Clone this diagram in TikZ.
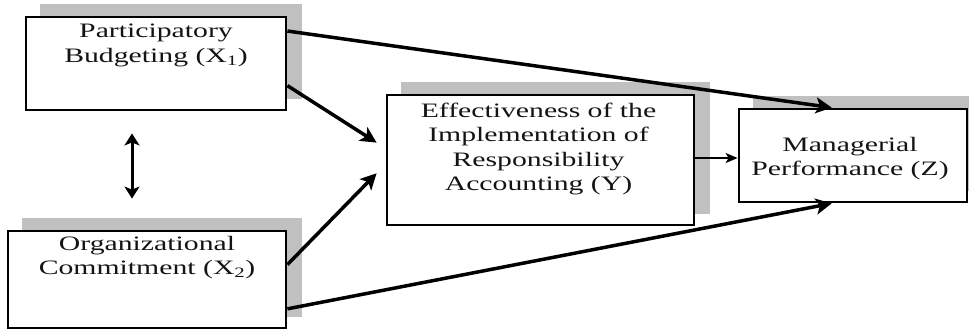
\documentclass[tikz,border=0pt]{standalone}
\usepackage{fontspec}
\setmainfont{Liberation Serif}[FakeStretch=1.45]
\usetikzlibrary{arrows.meta,calc,backgrounds}
\definecolor{shadowgray}{RGB}{192,192,192}
\definecolor{inktext}{RGB}{20,20,20}
\tikzset{
  box/.style={draw=black, line width=2.8pt, fill=white, inner sep=0pt},
  lbl/.style={align=center, inner sep=0pt, text=inktext, font=\fontsize{20.5}{24.5}\selectfont},
  mainarrow/.style={line width=3.5pt, -{Stealth[length=16pt,width=16pt,inset=4pt]}},
  linkarrow/.style={line width=1.6pt, -{Stealth[length=12pt,width=10pt,inset=3pt]}},
  corrarrow/.style={line width=3pt, {Stealth[length=12pt,width=15pt,inset=3pt]}-{Stealth[length=12pt,width=15pt,inset=3pt]}},
}
\newcommand{\dropshade}[1]{%
  \fill[shadowgray] ([xshift=15pt,yshift=12pt]#1.south west) rectangle ([xshift=15pt,yshift=12pt]#1.north east);}
\begin{document}
\begin{tikzpicture}[x=1pt,y=-1pt]
  \clip (0,0) rectangle (969,333);

  % construct boxes
  \node[box, minimum width=260pt, minimum height=93pt] (x1) at (156,63.5) {};
  \node[box, minimum width=278pt, minimum height=97pt] (x2) at (147,279.5) {};
  \node[box, minimum width=307pt, minimum height=130pt] (y) at (540.5,160) {};
  \node[box, minimum width=228pt, minimum height=93pt] (z) at (853,155.5) {};

  % offset grey shadows behind the boxes
  \begin{pgfonlayer}{background}
    \dropshade{x1}
    \dropshade{x2}
    \dropshade{y}
    \dropshade{z}
  \end{pgfonlayer}

  % labels
  \node[lbl, anchor=north] (x1t) at ([yshift=-8.5pt]x1.north) {Participatory\\Budgeting (X\textsubscript{1})};
  \node[lbl, anchor=north] (x2t) at ([yshift=-6pt]x2.north) {Organizational\\Commitment (X\textsubscript{2})};
  \node[lbl, anchor=north] (yt) at ([xshift=-2pt,yshift=-9pt]y.north) {Effectiveness of the\\Implementation of\\Responsibility\\Accounting (Y)};
  \node[lbl, anchor=north] (zt) at ([xshift=-3pt,yshift=-29pt]z.north) {Managerial\\Performance (Z)};

  % paths
  \draw[mainarrow] ($(x1.north east)!0.161!(x1.south east)$) -- ($(z.north west)!0.408!(z.north east)$);
  \draw[mainarrow] ($(x1.north east)!0.731!(x1.south east)$) -- ($(y.north west)!0.369!(y.south west) + (-9,0)$);
  \draw[mainarrow] ($(x2.north east)!0.351!(x2.south east)$) -- ($(y.north west)!0.6!(y.south west) + (-9,0)$);
  \draw[mainarrow] ($(x2.north east)!0.794!(x2.south east)$) -- ($(z.south west)!0.408!(z.south east)$);
  \coordinate (yz) at ($(y.north east)!0.485!(y.south east)$);
  \draw[linkarrow] (yz) -- (yz -| z.west);
  \draw[corrarrow] ([xshift=-24pt,yshift=-22pt]x1.south) -- ([xshift=-15pt,yshift=31pt]x2.north);
\end{tikzpicture}
\end{document}
